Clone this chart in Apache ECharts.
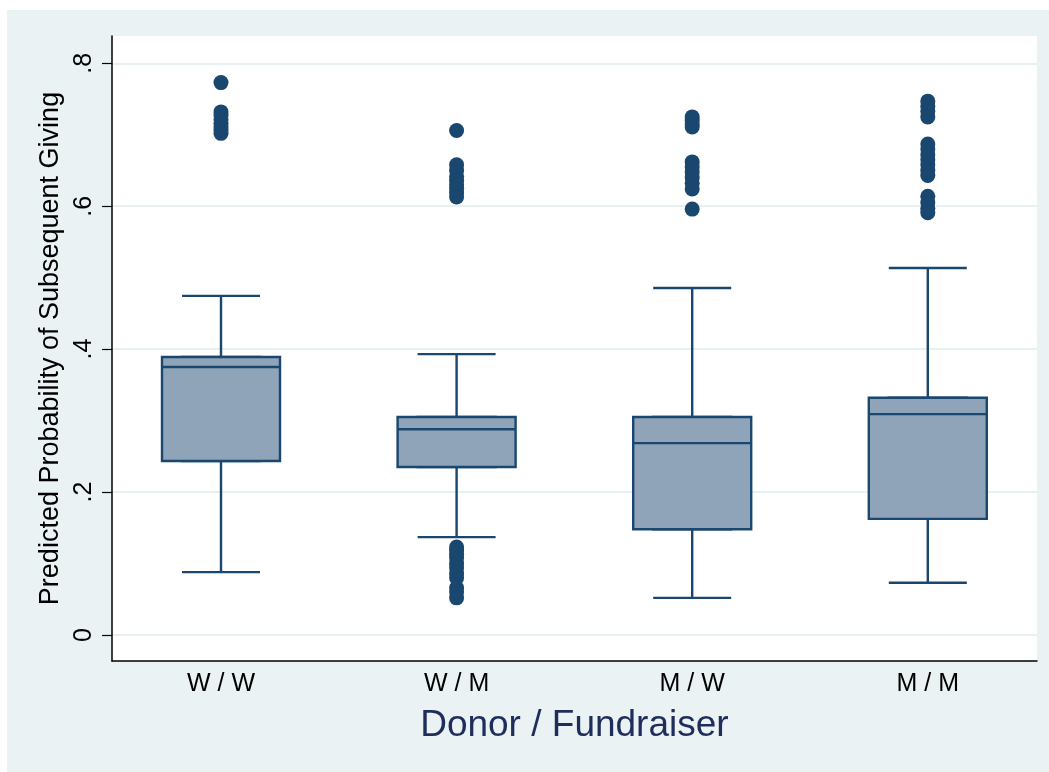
<!DOCTYPE html>
<html>
<head>
<meta charset="utf-8">
<script src="https://cdn.jsdelivr.net/npm/echarts@6/dist/echarts.min.js"></script>
<style>
  html, body { margin: 0; padding: 0; background: #ffffff; }
  #bg { position: absolute; left: 7px; top: 10px; width: 1042px; height: 762px; background: #eaf2f3; }
  #chart { position: absolute; left: 0; top: 0; width: 1049px; height: 772px; }
</style>
</head>
<body>
<div id="bg"></div>
<div id="chart"></div>
<script>
// ---- data ----
const categories = ['W / W', 'W / M', 'M / W', 'M / M'];
const whiskerLow  = [0.088, 0.137, 0.052, 0.073];
const q1          = [0.2435, 0.235, 0.148, 0.1625];
const median      = [0.375, 0.288, 0.2685, 0.309];
const q3          = [0.389, 0.305, 0.305, 0.332];
const whiskerHigh = [0.4745, 0.393, 0.4855, 0.5135];

const outliersWW = [0.773, 0.732, 0.727, 0.721, 0.716, 0.711, 0.706, 0.702];
const outliersWM = [0.706, 0.658, 0.650, 0.642, 0.636, 0.630, 0.625, 0.619, 0.613,
                    0.123, 0.118, 0.113, 0.108, 0.100, 0.094, 0.086, 0.080, 0.066, 0.060, 0.052];
const outliersMW = [0.725, 0.720, 0.715, 0.711, 0.662, 0.655, 0.648, 0.640, 0.632, 0.624, 0.596];
const outliersMM = [0.747, 0.740, 0.733, 0.725, 0.687, 0.680, 0.672, 0.665, 0.658, 0.650, 0.643,
                    0.614, 0.605, 0.597, 0.591];

const yTicks = [0, 0.2, 0.4, 0.6, 0.8];
const yTickLabels = ['0', '.2', '.4', '.6', '.8'];
const yTitle = 'Predicted Probability of Subsequent Giving';
const xTitle = 'Donor / Fundraiser';

// ---- build options ----
const navy = '#1a476f';
const fill = '#8fa4b8';
const font = 'Liberation Sans, Arial, Helvetica, sans-serif';
const yMin = -0.0364, yMax = 0.8382;

const fullBoxes = categories.map((c, i) => [whiskerLow[i], q1[i], median[i], q3[i], whiskerHigh[i]]);
const boxOnly   = categories.map((c, i) => [q1[i], q1[i], median[i], q3[i], q3[i]]);
const outlierLists = [outliersWW, outliersWM, outliersMW, outliersMM];
const outlierPts = [];
outlierLists.forEach((arr, i) => arr.forEach(v => outlierPts.push([i, v])));

const gridTop = 36, gridBottom = 111;
const chart = echarts.init(document.getElementById('chart'), null, { renderer: 'canvas' });
chart.setOption({
  backgroundColor: 'transparent',
  animation: false,
  textStyle: { fontFamily: font },
  grid: [
    { left: 112, right: 12, top: gridTop, bottom: gridBottom, show: true, backgroundColor: '#ffffff', borderWidth: 0 },
    { left: 103.2, right: 3.4, top: gridTop, bottom: gridBottom },
    { left: 103.2, right: 3.4, top: gridTop, bottom: gridBottom }
  ],
  xAxis: [
    { gridIndex: 0, type: 'value', min: 0, max: 1, position: 'bottom',
      axisLine: { show: true, onZero: false, lineStyle: { color: '#000000', width: 1.5 } },
      axisTick: { show: false }, axisLabel: { show: false }, splitLine: { show: false } },
    { gridIndex: 1, type: 'category', data: categories, boundaryGap: true,
      axisLine: { show: false, onZero: false }, axisTick: { show: false },
      axisLabel: { color: '#000000', fontSize: 25, margin: 11, fontFamily: font },
      name: xTitle, nameLocation: 'middle', nameGap: 46,
      nameTextStyle: { color: '#1e2d5c', fontSize: 37, fontFamily: font } },
    { gridIndex: 2, type: 'category', data: categories, boundaryGap: true, show: false }
  ],
  yAxis: [
    { gridIndex: 0, type: 'value', min: yMin, max: yMax, position: 'left',
      axisLine: { show: true, onZero: false, lineStyle: { color: '#000000', width: 1.5 } },
      axisTick: { show: true, length: 10, customValues: yTicks, lineStyle: { color: '#000000', width: 1.2 } },
      axisLabel: { customValues: yTicks, rotate: 90, margin: 15, fontSize: 25, color: '#000000', fontFamily: font,
        formatter: v => { const k = yTicks.findIndex(t => Math.abs(t - v) < 1e-6); return k >= 0 ? yTickLabels[k] : ''; } },
      splitLine: { show: true, lineStyle: { color: '#e8f0f2', width: 2 } },
      name: yTitle, nameLocation: 'middle', nameGap: 42, nameRotate: 90,
      nameTextStyle: { color: '#000000', fontSize: 27, fontFamily: font } },
    { gridIndex: 1, type: 'value', min: yMin, max: yMax, show: false, splitLine: { show: false } },
    { gridIndex: 2, type: 'value', min: yMin, max: yMax, show: false, splitLine: { show: false } }
  ],
  series: [
    { type: 'boxplot', xAxisIndex: 2, yAxisIndex: 2, z: 2, data: fullBoxes, boxWidth: [78, 78],
      itemStyle: { color: fill, borderColor: navy, borderWidth: 2.4 } },
    { type: 'boxplot', xAxisIndex: 1, yAxisIndex: 1, z: 3, data: boxOnly, boxWidth: [118, 118],
      itemStyle: { color: fill, borderColor: navy, borderWidth: 2.4 } },
    { type: 'scatter', xAxisIndex: 1, yAxisIndex: 1, z: 4, data: outlierPts, symbol: 'circle', symbolSize: 15,
      itemStyle: { color: navy, opacity: 1 } }
  ]
});
</script>
</body>
</html>
